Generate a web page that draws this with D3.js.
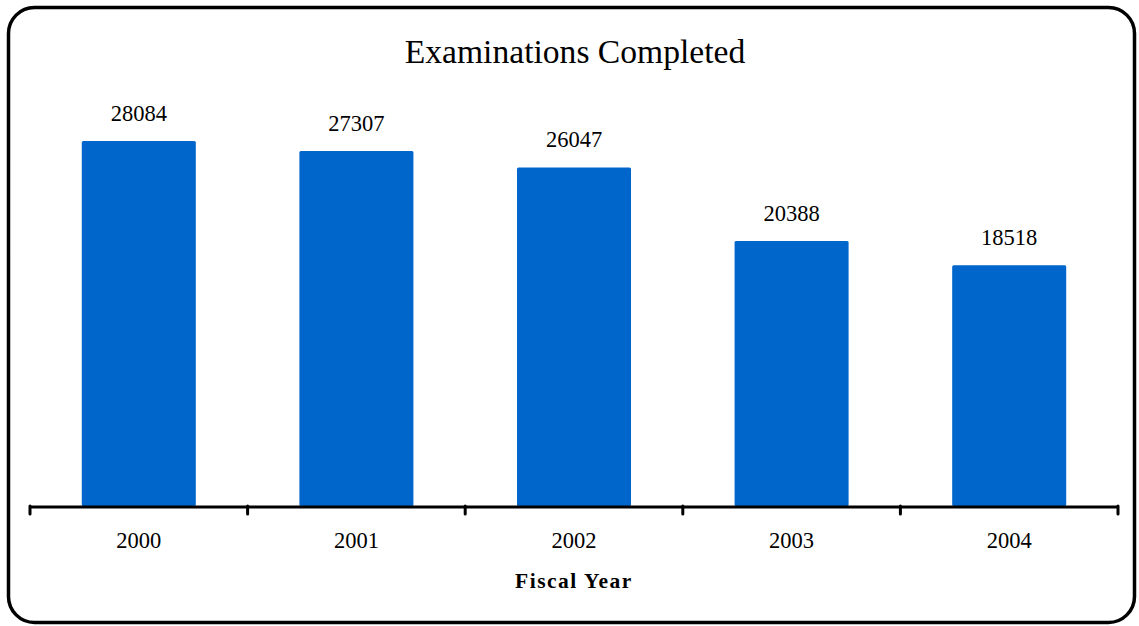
<!DOCTYPE html>
<html>
<head>
<meta charset="utf-8">
<script src="https://cdn.jsdelivr.net/npm/d3@7/dist/d3.min.js"></script>
<style>
  html, body { margin: 0; padding: 0; background: #fff; }
  svg { display: block; }
  text { font-family: "Liberation Serif", "Times New Roman", serif; fill: #000; }
</style>
</head>
<body>
<script>
const title = "Examinations Completed";
const xAxisTitle = "Fiscal Year";
const categories = ["2000", "2001", "2002", "2003", "2004"];
const values = [28084, 27307, 26047, 20388, 18518];
const yDomain = [0, 35000];

const W = 1139, H = 626;
const svg = d3.select("body").append("svg").attr("width", W).attr("height", H);

// outer rounded frame
svg.append("rect")
  .attr("x", 8.5).attr("y", 7.5)
  .attr("width", 1126).attr("height", 615)
  .attr("rx", 26).attr("ry", 26)
  .attr("fill", "#fff").attr("stroke", "#000").attr("stroke-width", 3.5);

const plot = { left: 30, right: 1118, bottom: 506 };
const x = d3.scaleBand().domain(categories).range([plot.left, plot.right]).paddingInner(0.476).paddingOuter(0.238);
const y = d3.scaleLinear().domain(yDomain).range([plot.bottom, plot.bottom - 455]);

// title
svg.append("text")
  .attr("x", 575).attr("y", 63)
  .attr("text-anchor", "middle")
  .style("font-size", "33.6px")
  .text(title);

// bars
svg.selectAll("rect.bar").data(values).enter().append("rect")
  .attr("class", "bar")
  .attr("x", (d, i) => x(categories[i]))
  .attr("y", d => y(d))
  .attr("width", x.bandwidth())
  .attr("height", d => y(0) - y(d))
  .attr("rx", 1.5)
  .attr("fill", "#0066CC");

// value labels
svg.selectAll("text.val").data(values).enter().append("text")
  .attr("class", "val")
  .attr("x", (d, i) => x(categories[i]) + x.bandwidth() / 2)
  .attr("y", d => y(d) - 20)
  .attr("text-anchor", "middle")
  .style("font-size", "22.5px")
  .text(d => d);

// x axis
const step = x.step();
const tickPositions = d3.range(categories.length + 1).map(i => plot.left + i * step);
const axis = svg.append("g");
axis.append("line")
  .attr("x1", plot.left).attr("x2", plot.right)
  .attr("y1", plot.bottom + 1).attr("y2", plot.bottom + 1)
  .attr("stroke", "#000").attr("stroke-width", 3);
axis.selectAll("line.tick").data(tickPositions).enter().append("line")
  .attr("class", "tick")
  .attr("x1", d => d).attr("x2", d => d)
  .attr("y1", plot.bottom).attr("y2", plot.bottom + 8)
  .attr("stroke", "#000").attr("stroke-width", 3)
  .attr("stroke-linecap", "round");
axis.selectAll("text.cat").data(categories).enter().append("text")
  .attr("class", "cat")
  .attr("x", d => x(d) + x.bandwidth() / 2)
  .attr("y", 548)
  .attr("text-anchor", "middle")
  .style("font-size", "22.5px")
  .text(d => d);

svg.append("text")
  .attr("x", 574).attr("y", 588)
  .attr("text-anchor", "middle")
  .style("font-size", "21.5px")
  .style("font-weight", "bold")
  .style("letter-spacing", "1.5px")
  .text(xAxisTitle);
</script>
</body>
</html>
